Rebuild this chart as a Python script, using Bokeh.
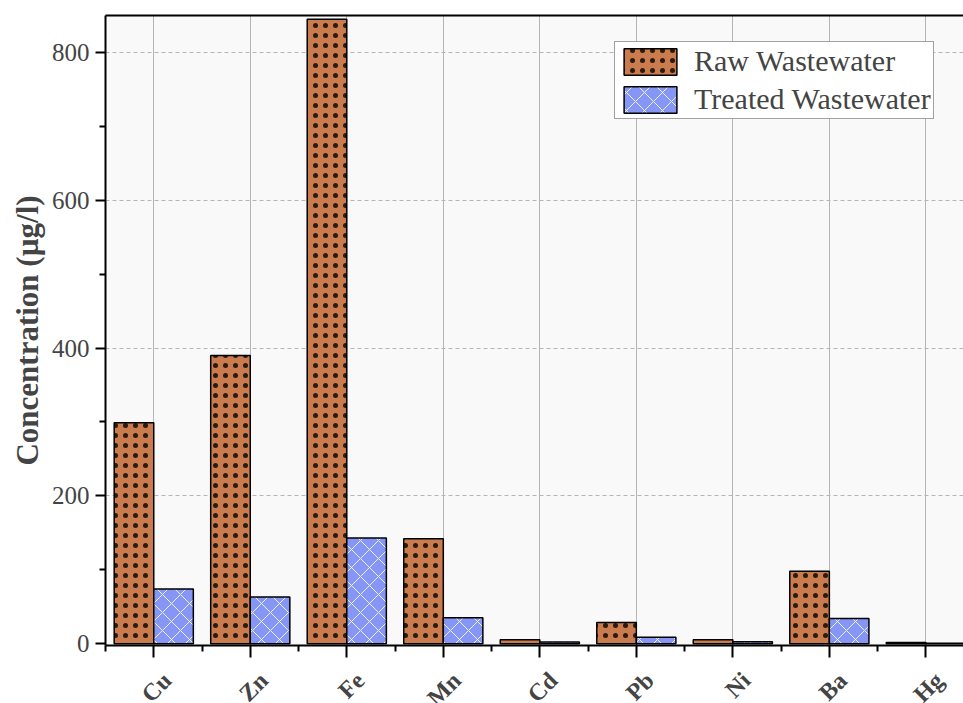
import math
from bokeh.plotting import figure
from bokeh.models import (ColumnDataSource, Range1d, LinearAxis, FixedTicker,
                          Legend, LegendItem)
from bokeh.embed import file_html
from bokeh.resources import INLINE

# ---- data ----
elements = ["Cu", "Zn", "Fe", "Mn", "Cd", "Pb", "Ni", "Ba", "Hg"]
raw = [299, 390, 845, 142, 5.4, 28.5, 5.4, 98, 1.7]
treated = [74, 63, 143, 35, 2.2, 8.5, 2.7, 34, 0.5]
y_ticks = [0, 200, 400, 600, 800]

FONT = "Liberation Serif"
RAW_COLOR = "#cb7c4f"
TREATED_COLOR = "#8696f4"
BAR_W = 0.41
LABEL_SHIFT = 0.14

pos = list(range(1, len(elements) + 1))
src = ColumnDataSource(dict(
    xr=[p_ - BAR_W / 2 for p_ in pos],
    xt=[p_ + BAR_W / 2 for p_ in pos],
    raw=raw, treated=treated))

p = figure(width=963, height=724, output_backend="svg", toolbar_location=None,
           x_range=Range1d(0.5, 9.39), y_range=Range1d(-2.5, 850),
           min_border_left=105, min_border_right=0, min_border_top=15,
           min_border_bottom=79)
p.background_fill_color = "#f9f9f9"
p.border_fill_color = "white"
p.outline_line_color = None

r_raw = p.vbar(x="xr", top="raw", bottom=0, width=BAR_W, source=src,
               fill_color=RAW_COLOR, line_color="black", line_width=1.5,
               hatch_pattern="dot", hatch_color="#2a1a10", hatch_scale=10,
               hatch_weight=0.85)
r_tr = p.vbar(x="xt", top="treated", bottom=0, width=BAR_W, source=src,
              fill_color=TREATED_COLOR, line_color="black", line_width=1.5,
              hatch_pattern="diagonal_cross", hatch_color="white",
              hatch_scale=18, hatch_weight=1.0, hatch_alpha=0.85)

# x axis: ticks
xa = p.xaxis[0]
xa.ticker = FixedTicker(ticks=pos, minor_ticks=[i + 0.5 for i in range(0, 10)])
xa.major_label_overrides = {i: "" for i in pos}
xa.major_label_text_font_size = "8px"
xa.major_label_standoff = 0
xa.axis_line_width = 2
xa.major_tick_out = 12
xa.major_tick_in = 0
xa.minor_tick_out = 6
xa.minor_tick_in = 0
xa.major_tick_line_width = 2
xa.minor_tick_line_width = 2

# x axis: element labels (centred under each pair)
lab_ticks = [i + LABEL_SHIFT for i in pos]
xb = LinearAxis(ticker=FixedTicker(ticks=lab_ticks),
                major_label_overrides={t: e for t, e in zip(lab_ticks, elements)},
                major_label_orientation=math.pi / 4,
                major_label_text_font=FONT, major_label_text_font_style="bold",
                major_label_text_font_size="24px", major_label_standoff=13,
                axis_line_color=None, major_tick_line_color=None,
                minor_tick_line_color=None)
p.add_layout(xb, "below")

# y axis
ya = p.yaxis[0]
ya.ticker = FixedTicker(ticks=y_ticks, minor_ticks=[100, 300, 500, 700])
ya.major_label_text_font = FONT
ya.major_label_text_font_size = "25px"
ya.axis_label = "Concentration (µg/l)"
ya.axis_label_text_font = FONT
ya.axis_label_text_font_style = "bold"
ya.axis_label_text_font_size = "31px"
ya.axis_label_standoff = 4
ya.axis_line_width = 2
ya.major_tick_out = 10
ya.major_tick_in = 0
ya.minor_tick_out = 6
ya.minor_tick_in = 0
ya.major_tick_line_width = 2
ya.minor_tick_line_width = 2
ya.major_label_standoff = 6

# top frame line
top = LinearAxis(ticker=FixedTicker(ticks=[]), axis_line_width=2,
                 major_tick_line_color=None, minor_tick_line_color=None,
                 major_label_standoff=0)
p.add_layout(top, "above")

# grids
p.xgrid.ticker = FixedTicker(ticks=pos)
p.xgrid.grid_line_color = "#b5b5b5"
p.xgrid.grid_line_width = 1
p.ygrid.ticker = FixedTicker(ticks=y_ticks[1:])
p.ygrid.grid_line_color = "#b5b5b5"
p.ygrid.grid_line_dash = "4 3"
p.ygrid.grid_line_width = 1

legend = Legend(items=[LegendItem(label="Raw Wastewater", renderers=[r_raw]),
                       LegendItem(label="Treated Wastewater", renderers=[r_tr])],
                location=(509, 526), orientation="vertical")
legend.glyph_width = 66
legend.glyph_height = 33
legend.label_height = 33
legend.spacing = 4
legend.padding = 2
legend.margin = 0
legend.label_standoff = 11
legend.label_text_font = FONT
legend.label_text_font_size = "30px"
legend.border_line_color = "#444444"
legend.border_line_width = 1
legend.background_fill_color = "white"
legend.background_fill_alpha = 1
p.add_layout(legend, "center")

open("out.html", "w").write(file_html(p, INLINE))
